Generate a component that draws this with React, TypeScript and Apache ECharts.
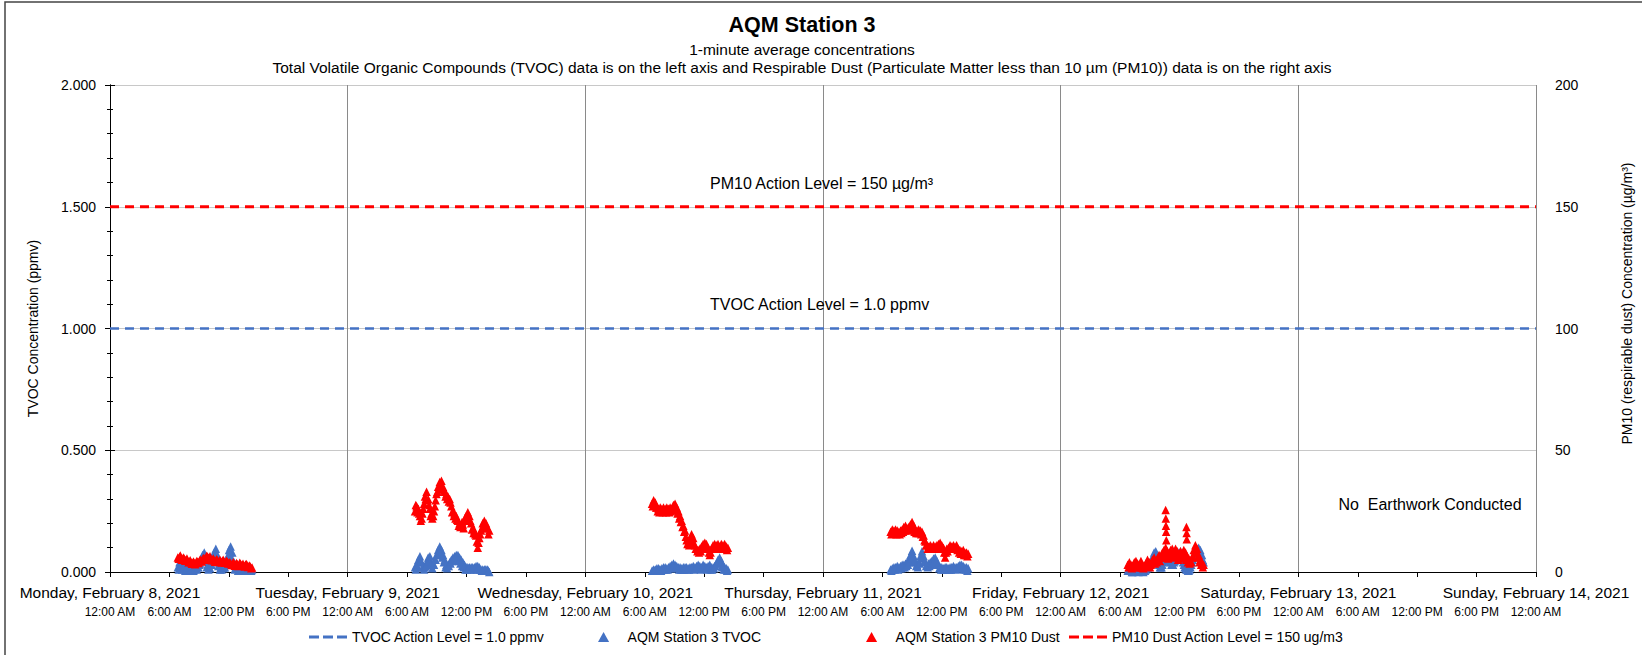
import React, { useEffect, useRef } from "react";
import * as echarts from "echarts";

const FONT = "'Liberation Sans', Arial, sans-serif";

const chartTitle = "AQM Station 3";
const subtitle1 = "1-minute average concentrations";
const subtitle2 =
  "Total Volatile Organic Compounds (TVOC) data is on the left axis and Respirable Dust (Particulate Matter less than 10 µm (PM10)) data is on the right axis";

const dayLabels = [
  "Monday, February 8, 2021",
  "Tuesday, February 9, 2021",
  "Wednesday, February 10, 2021",
  "Thursday, February 11, 2021",
  "Friday, February 12, 2021",
  "Saturday, February 13, 2021",
  "Sunday, February 14, 2021",
];
const timeLabels = ["12:00 AM", "6:00 AM", "12:00 PM", "6:00 PM"];
const tvocTicks = ["0.000", "0.500", "1.000", "1.500", "2.000"];

const tvocActionLevel = 1.0;
const pm10ActionLevel = 150;

const seriesNames = [
  "TVOC Action Level = 1.0 ppmv",
  "AQM Station 3 TVOC",
  "AQM Station 3 PM10 Dust",
  "PM10 Dust Action Level = 150 ug/m3",
];

// readings sampled every 10 minutes (plus the readings 5 minutes after each);
// start = hours after Mon Feb 8 00:00
const sampleStepHours = 1 / 6;
const clusterStarts = [6.85, 30.8, 54.73, 78.83, 102.77];

const tvocMon = [
  0.02, 0.04, 0.03, 0.02, 0.02, 0.01, 0.02, 0.01, 0.01, 0.02,
  0.01, 0.02, 0.02, 0.03, 0.05, 0.07, 0.08, 0.06, 0.03, 0.02,
  0.03, 0.05, 0.08, 0.095, 0.07, 0.04, 0.02, 0.02, 0.02, 0.03,
  0.06, 0.09, 0.105, 0.08, 0.04, 0.02, 0.02, 0.01, 0.02, 0.01,
  0.01, 0.02, 0.01, 0.01, 0.01, 0.01,
];
const tvocMonOffset = [
  0.01, 0.02, 0.01, 0.015, 0.005, 0.015, 0.005, 0.01, 0.015, 0.005,
  0.015, 0.01, 0.02, 0.035, 0.05, 0.06, 0.045, 0.02, 0.01, 0.015,
  0.03, 0.06, 0.07, 0.05, 0.025, 0.01, 0.01, 0.015, 0.02, 0.04,
  0.07, 0.08, 0.06, 0.03, 0.01, 0.015, 0.005, 0.01, 0.015, 0.005,
  0.01, 0.015, 0.005, 0.01, 0.005,
];
const pm10Mon = [
  6.0, 6.3, 5.8, 5.5, 5.3, 5.0, 4.6, 4.3, 4.0, 3.8,
  3.7, 3.9, 4.2, 4.5, 4.8, 5.2, 5.5, 6.0, 6.4, 6.0,
  5.4, 5.0, 4.8, 4.6, 4.8, 4.5, 4.4, 4.6, 4.3, 4.0,
  4.2, 3.8, 3.5, 3.2, 3.6, 3.0, 3.3, 2.8, 3.4, 3.0,
  2.6, 3.1, 2.8, 2.4, 2.2, 1.8,
];
const pm10MonOffset = [
  5.4, 6.8, 5.0, 6.0, 4.6, 5.5, 4.0, 4.8, 3.4, 4.3,
  3.2, 4.5, 3.7, 5.1, 4.3, 5.8, 5.0, 6.7, 5.7, 6.5,
  4.8, 5.5, 4.2, 5.2, 4.1, 5.0, 3.9, 5.0, 3.8, 4.6,
  3.5, 4.0, 2.9, 4.0, 2.6, 3.7, 2.5, 3.8, 2.6, 3.4,
  2.3, 3.3, 2.1, 2.7, 1.5,
];
const tvocTue = [
  0.02, 0.03, 0.05, 0.065, 0.04, 0.02, 0.02, 0.04, 0.06, 0.065,
  0.04, 0.03, 0.05, 0.07, 0.09, 0.105, 0.09, 0.07, 0.05, 0.03,
  0.03, 0.04, 0.05, 0.06, 0.065, 0.07, 0.07, 0.06, 0.05, 0.04,
  0.03, 0.02, 0.02, 0.02, 0.02, 0.02, 0.02, 0.025, 0.025, 0.02,
  0.01, 0.01, 0.01, 0.01, 0.01, 0.0,
];
const tvocTueOffset = [
  0.01, 0.02, 0.04, 0.045, 0.02, 0.01, 0.025, 0.04, 0.045, 0.03,
  0.015, 0.03, 0.05, 0.07, 0.08, 0.075, 0.06, 0.04, 0.02, 0.015,
  0.025, 0.035, 0.045, 0.05, 0.055, 0.05, 0.045, 0.035, 0.025, 0.02,
  0.01, 0.01, 0.015, 0.01, 0.015, 0.01, 0.015, 0.01, 0.015, 0.01,
  0.005, 0.005, 0.01, 0.005, 0.005,
];
const pm10Tue = [
  25, 27, 26, 23, 22, 26, 31, 33, 30, 26,
  24, 23, 27, 32, 35, 37, 37.5, 35, 33, 32,
  31, 30, 27, 25, 24, 23, 21, 20, 19, 19.5,
  21, 23, 24.5, 23, 20, 18, 17, 15, 10, 14,
  17, 20, 21, 20, 18, 17,
];
const pm10TueOffset = [
  27.5, 24.5, 24, 21, 24, 28, 30, 29.5, 27.5, 23,
  22, 25, 29.5, 33, 34, 35.5, 34.5, 33.5, 31, 30,
  29, 28.5, 24.5, 23, 22, 21.5, 19, 18.5, 20.5, 18,
  22.5, 22, 22, 21, 17.5, 16, 15.5, 12.5, 12, 15.5,
  18, 19, 18.5, 18.5, 15.5,
];
const tvocWed = [
  0.005, 0.01, 0.01, 0.015, 0.015, 0.01, 0.015, 0.02, 0.02, 0.015,
  0.02, 0.025, 0.03, 0.035, 0.03, 0.025, 0.02, 0.02, 0.015, 0.02,
  0.02, 0.02, 0.015, 0.02, 0.02, 0.025, 0.02, 0.025, 0.03, 0.025,
  0.02, 0.03, 0.025, 0.02, 0.025, 0.03, 0.02, 0.02, 0.025, 0.035,
  0.05, 0.06, 0.045, 0.03, 0.02, 0.015, 0.01,
];
const tvocWedOffset = [
  0.005, 0.005, 0.01, 0.005, 0.01, 0.005, 0.01, 0.01, 0.01, 0.01,
  0.015, 0.015, 0.02, 0.02, 0.02, 0.015, 0.01, 0.01, 0.01, 0.01,
  0.015, 0.01, 0.01, 0.015, 0.015, 0.01, 0.015, 0.02, 0.015, 0.01,
  0.015, 0.02, 0.015, 0.01, 0.02, 0.01, 0.01, 0.015, 0.025, 0.04,
  0.045, 0.035, 0.02, 0.01, 0.01, 0.005,
];
const pm10Wed = [
  28, 29.5, 28.5, 26.5, 26, 26.5, 26, 26.5, 26, 26.5,
  26, 26.5, 26, 27.5, 28, 26.5, 25, 23, 21, 19,
  17, 13, 12, 13.5, 15.5, 14, 11, 9.5, 9, 9.5,
  10.5, 11.5, 12, 11.5, 10, 7, 9.5, 11, 11.5, 11,
  11.5, 10.5, 11.5, 11, 11.5, 10.5, 10,
];
const pm10WedOffset = [
  27, 27.5, 26.5, 25, 24.5, 25, 24.5, 25, 24.5, 25,
  24.5, 25, 25.5, 26, 25.5, 24, 22, 20.5, 18.5, 16.5,
  14.5, 11.5, 11, 12.5, 13, 11.5, 9.5, 8.5, 8, 8.5,
  10, 10.5, 10.5, 9.5, 8, 8, 10, 10, 10, 10,
  9.5, 10, 10, 10, 9.5, 9,
];
const tvocThu = [
  0.01, 0.015, 0.02, 0.02, 0.025, 0.02, 0.025, 0.03, 0.03, 0.035,
  0.04, 0.05, 0.07, 0.087, 0.065, 0.04, 0.03, 0.04, 0.065, 0.085,
  0.065, 0.04, 0.03, 0.035, 0.04, 0.045, 0.055, 0.06, 0.045, 0.03,
  0.02, 0.02, 0.015, 0.02, 0.02, 0.015, 0.02, 0.02, 0.025, 0.02,
  0.02, 0.025, 0.03, 0.03, 0.025, 0.02, 0.02, 0.015,
];
const tvocThuOffset = [
  0.005, 0.01, 0.01, 0.015, 0.01, 0.015, 0.015, 0.02, 0.02, 0.025,
  0.03, 0.04, 0.055, 0.06, 0.045, 0.025, 0.02, 0.035, 0.055, 0.06,
  0.045, 0.025, 0.02, 0.025, 0.03, 0.035, 0.04, 0.04, 0.03, 0.015,
  0.01, 0.01, 0.01, 0.01, 0.01, 0.01, 0.01, 0.015, 0.015, 0.01,
  0.015, 0.015, 0.02, 0.015, 0.01, 0.01, 0.005,
];
const pm10Thu = [
  16.5, 17.5, 17, 17.5, 17, 16.5, 17, 17.5, 18.5, 19,
  18, 18.5, 19.5, 20.5, 19, 17.5, 17, 17.5, 17, 16.5,
  15, 12.5, 11, 10.5, 11, 10.5, 11, 10.5, 11, 11.5,
  12, 11, 10, 6, 9.5, 10, 11, 10.5, 11, 10.5,
  11, 9.5, 9, 8.5, 9, 8, 8, 7.5,
];
const pm10ThuOffset = [
  15.5, 16, 16, 15.5, 16, 15.5, 16, 16.5, 17, 17.5,
  17, 17.5, 18.5, 18, 16.5, 16, 16, 16, 15.5, 14.5,
  13, 11, 9.5, 9.5, 9.5, 9.5, 9.5, 9.5, 10, 10.5,
  10, 9.5, 8, 8, 8.5, 9.5, 9.5, 9.5, 9.5, 9.5,
  9, 8, 7.5, 7.5, 7, 7, 6.5,
];
const tvocFri = [
  0.005, 0.01, 0.005, 0.0, 0.005, 0.01, 0.005, 0.005, 0.01, 0.005,
  0.005, 0.01, 0.02, 0.03, 0.04, 0.06, 0.08, 0.085, 0.06, 0.03,
  0.02, 0.03, 0.05, 0.07, 0.075, 0.06, 0.04, 0.03, 0.04, 0.055,
  0.07, 0.08, 0.085, 0.06, 0.03, 0.015, 0.01, 0.005, 0.02, 0.04,
  0.06, 0.08, 0.095, 0.1, 0.09, 0.07, 0.04,
];
const tvocFriOffset = [
  0.005, 0.005, 0.0, 0.005, 0.005, 0.005, 0.0, 0.005, 0.005, 0.0,
  0.005, 0.015, 0.02, 0.03, 0.045, 0.065, 0.07, 0.065, 0.04, 0.02,
  0.02, 0.04, 0.055, 0.06, 0.06, 0.045, 0.03, 0.03, 0.045, 0.06,
  0.07, 0.075, 0.065, 0.04, 0.02, 0.01, 0.005, 0.01, 0.03, 0.05,
  0.07, 0.085, 0.09, 0.085, 0.07, 0.05,
];
const pm10Fri = [
  3, 4, 3, 2.5, 4, 4.5, 3.5, 3, 4.5, 3,
  2.5, 3.5, 5, 4, 3, 5, 6, 4.5, 5.5, 7,
  6, 8, 9, 10, 8.5, 7.5, 9, 9.5, 8, 9.5,
  8.5, 7, 8.5, 7.5, 9, 8, 6.5, 5.5, 4.5, 6,
  9, 11, 9.5, 7, 5, 4, 3,
];
const pm10FriOffset = [
  2, 2.5, 1.5, 3, 3, 2, 2, 3, 2, 1.5,
  2.5, 3.5, 3, 2, 3.5, 4, 3.5, 4, 5, 4.5,
  6, 6.5, 7.5, 6.5, 5.5, 6.5, 7, 6, 7, 6.5,
  5, 6, 5.5, 7, 6, 5, 4, 3.5, 4, 6.5,
  8, 8, 6, 4, 3, 2,
];
// isolated high one-minute PM10 readings on Friday: [hour, µg/m3]
const pm10FriSpikes = [
  [106.6, 25.5], [106.62, 22], [106.63, 19], [106.65, 16.5], [106.67, 13],
  [108.7, 18.5], [108.72, 16], [108.73, 13.5],
];

const tvocDays = [tvocMon, tvocTue, tvocWed, tvocThu, tvocFri];
const tvocDaysOffset = [tvocMonOffset, tvocTueOffset, tvocWedOffset, tvocThuOffset, tvocFriOffset];
const pm10Days = [pm10Mon, pm10Tue, pm10Wed, pm10Thu, pm10Fri];
const pm10DaysOffset = [pm10MonOffset, pm10TueOffset, pm10WedOffset, pm10ThuOffset, pm10FriOffset];

function toPoints(days: number[][], shift: number) {
  const pts: number[][] = [];
  days.forEach((vals, d) => {
    vals.forEach((v, i) => pts.push([clusterStarts[d] + (i + shift) * sampleStepHours, v]));
  });
  return pts;
}

const BLUE = "#4472C4";
const RED = "#FF0000";
const DASH_ICON = "path://M0,0h10v3h-10z M14,0h10v3h-10z M28,0h10v3h-10z";
const TRI_ICON = "path://M5,0L10,9L0,9Z";

export default function App() {
  const ref = useRef<HTMLDivElement>(null);
  useEffect(() => {
    const chart = echarts.init(ref.current!, null, { renderer: "svg" });
    const tvocPts = toPoints(tvocDays, 0).concat(toPoints(tvocDaysOffset, 0.5));
    const pm10Pts = toPoints(pm10Days, 0)
      .concat(toPoints(pm10DaysOffset, 0.5))
      .concat(pm10FriSpikes);
    const legendBase = {
      top: 625,
      itemWidth: 38,
      itemHeight: 10,
      symbolKeepAspect: true,
      textStyle: { fontFamily: FONT, fontSize: 14, color: "#000" },
      selectedMode: false,
    };
    const axisTitle = { fontFamily: FONT, fontSize: 14, color: "#000" };
    chart.setOption({
      animation: false,
      backgroundColor: "#fff",
      textStyle: { fontFamily: FONT },
      title: {
        text: chartTitle,
        subtext: subtitle1 + "\n" + subtitle2,
        left: 797,
        textAlign: "center",
        top: 9,
        itemGap: 4,
        textStyle: { fontFamily: FONT, fontSize: 21.5, fontWeight: "bold", color: "#000" },
        subtextStyle: { fontFamily: FONT, fontSize: 15.5, color: "#000", lineHeight: 18 },
      },
      legend: [
        { ...legendBase, left: 304, data: [{ name: seriesNames[0], icon: DASH_ICON }] },
        { ...legendBase, left: 593, data: [{ name: seriesNames[1], icon: TRI_ICON }] },
        { ...legendBase, left: 861, data: [{ name: seriesNames[2], icon: TRI_ICON }] },
        { ...legendBase, left: 1064, data: [{ name: seriesNames[3], icon: DASH_ICON }] },
      ],
      grid: { left: 110, right: 97, top: 85, bottom: 83, containLabel: false },
      xAxis: [
        {
          type: "value",
          position: "bottom",
          min: 0,
          max: 144,
          interval: 24,
          axisLine: { show: true, lineStyle: { color: "#000", width: 1 } },
          axisTick: { show: false },
          splitLine: { show: true, lineStyle: { color: "#8a8a8a", width: 1 } },
          axisLabel: {
            show: true,
            showMinLabel: true,
            showMaxLabel: true,
            margin: 12,
            fontFamily: FONT,
            fontSize: 15.5,
            color: "#000",
            formatter: (v: number) => dayLabels[Math.round(v / 24)] ?? "",
          },
        },
        {
          type: "value",
          position: "bottom",
          min: 0,
          max: 144,
          interval: 6,
          axisLine: { show: false },
          axisTick: { show: true, length: 5, lineStyle: { color: "#000" } },
          splitLine: { show: false },
          axisLabel: {
            show: true,
            showMinLabel: true,
            showMaxLabel: true,
            margin: 34,
            fontFamily: FONT,
            fontSize: 12,
            color: "#000",
            formatter: (v: number) => timeLabels[Math.round(v / 6) % 4],
          },
        },
      ],
      yAxis: [
        {
          type: "value",
          min: 0,
          max: 2,
          interval: 0.5,
          position: "left",
          name: "TVOC Concentration (ppmv)",
          nameLocation: "middle",
          nameGap: 70,
          nameTextStyle: axisTitle,
          axisLine: { show: true, lineStyle: { color: "#000" } },
          axisTick: { show: true, length: 5, lineStyle: { color: "#000" } },
          minorTick: { show: true, splitNumber: 5, length: 3, lineStyle: { color: "#000" } },
          splitLine: { show: true, lineStyle: { color: "#c8c8c8", width: 1 } },
          axisLabel: {
            margin: 14,
            fontFamily: FONT,
            fontSize: 14,
            color: "#000",
            formatter: (v: number) => tvocTicks[Math.round(v / 0.5)],
          },
        },
        {
          type: "value",
          min: 0,
          max: 200,
          interval: 50,
          position: "right",
          name: "PM10 (respirable dust) Concentration (µg/m³)",
          nameLocation: "middle",
          nameGap: 84,
          nameTextStyle: { ...axisTitle, padding: [0, 0, 0, 50] },
          axisLine: { show: true, lineStyle: { color: "#000" } },
          axisTick: { show: true, length: 5, lineStyle: { color: "#000" } },
          minorTick: { show: true, splitNumber: 5, length: 3, lineStyle: { color: "#000" } },
          splitLine: { show: false },
          axisLabel: { margin: 19, fontFamily: FONT, fontSize: 14, color: "#000" },
        },
      ],
      graphic: [
        {
          type: "rect",
          shape: { x: 5, y: 2, width: 1645, height: 665 },
          style: { fill: "none", stroke: "#444", lineWidth: 1.5 },
          silent: true,
          z: -10,
        },
        {
          type: "text",
          x: 710,
          y: 183,
          style: {
            text: "PM10 Action Level = 150 µg/m³",
            font: `16px ${FONT}`,
            fill: "#000",
            textAlign: "left",
            textVerticalAlign: "middle",
          },
          z: 100,
        },
        {
          type: "text",
          x: 710,
          y: 304,
          style: {
            text: "TVOC Action Level = 1.0 ppmv",
            font: `16px ${FONT}`,
            fill: "#000",
            textAlign: "left",
            textVerticalAlign: "middle",
          },
          z: 100,
        },
        {
          type: "text",
          x: 1430,
          y: 504,
          style: {
            text: "No  Earthwork Conducted",
            font: `16px ${FONT}`,
            fill: "#000",
            textAlign: "center",
            textVerticalAlign: "middle",
          },
          z: 100,
        },
      ],
      series: [
        {
          name: seriesNames[0],
          type: "line",
          xAxisIndex: 0,
          yAxisIndex: 0,
          data: [
            [0, tvocActionLevel],
            [144, tvocActionLevel],
          ],
          symbol: "none",
          lineStyle: { color: BLUE, width: 2.5, type: [9, 6] },
          itemStyle: { color: BLUE },
          z: 3,
        },
        {
          name: seriesNames[1],
          type: "scatter",
          xAxisIndex: 0,
          yAxisIndex: 0,
          data: tvocPts,
          symbol: "triangle",
          symbolSize: 8.5,
          itemStyle: { color: BLUE, opacity: 1 },
          z: 4,
        },
        {
          name: seriesNames[2],
          type: "scatter",
          xAxisIndex: 0,
          yAxisIndex: 1,
          data: pm10Pts,
          symbol: "triangle",
          symbolSize: 8.5,
          itemStyle: { color: RED, opacity: 1 },
          z: 5,
        },
        {
          name: seriesNames[3],
          type: "line",
          xAxisIndex: 0,
          yAxisIndex: 1,
          data: [
            [0, pm10ActionLevel],
            [144, pm10ActionLevel],
          ],
          symbol: "none",
          lineStyle: { color: RED, width: 3, type: [9, 6] },
          itemStyle: { color: RED },
          z: 3,
        },
      ],
    });
    return () => chart.dispose();
  }, []);
  return (
    <div
      ref={ref}
      style={{ position: "fixed", left: 0, top: 0, width: 1642, height: 655, background: "#fff" }}
    />
  );
}
